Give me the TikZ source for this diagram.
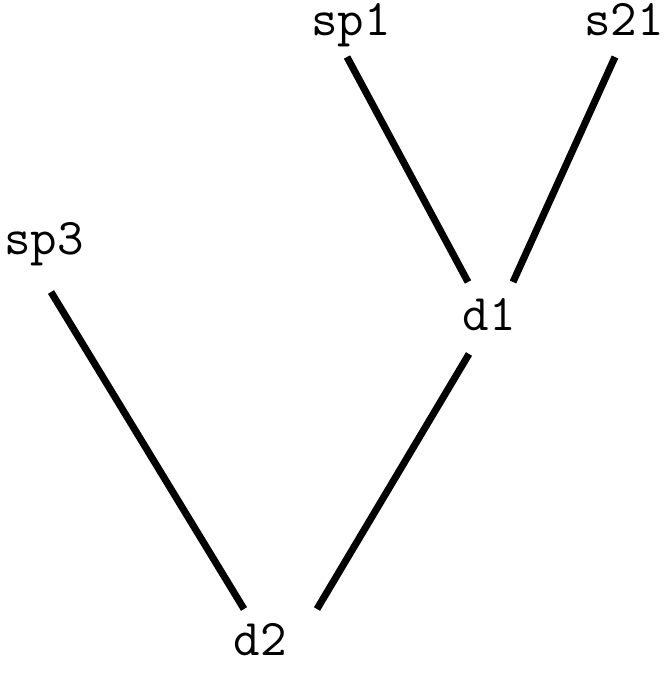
\documentclass[tikz,border=0pt]{standalone}
\usepackage{fontspec}
\usetikzlibrary{positioning}
\usetikzlibrary{calc}

\begin{document}
\begin{tikzpicture}[x=0.75pt, y=0.75pt,
    leaf/.style={font=\ttfamily\fontsize{38.6}{44}\selectfont, anchor=base, inner sep=0},
    edge/.style={line width=5.3pt}]
        \useasboundingbox (0,0) rectangle (671,681);
        % nodes %
        \node[leaf] (sp1) at (351,645) {sp1};
        \node[leaf] (s21) at (624,645) {s21};
        \node[leaf] (sp3) at (44,426) {sp3};
        \node[leaf] (d1) at (489,350) {d1};
        \node[leaf] (d2) at (260,25) {d2};

        % edges %
        \draw[edge] ($(sp1.base)+(-4,-21)$) -- ($(d1.base)+(-21,49)$);
        \draw[edge] ($(s21.base)+(-9,-21)$) -- ($(d1.base)+(24,49)$);
        \draw[edge] ($(sp3.base)+(7,-37)$) -- ($(d2.base)+(-16,47)$);
        \draw[edge] ($(d1.base)+(-20,-23)$) -- ($(d2.base)+(57,47)$);
      \end{tikzpicture}
\end{document}
